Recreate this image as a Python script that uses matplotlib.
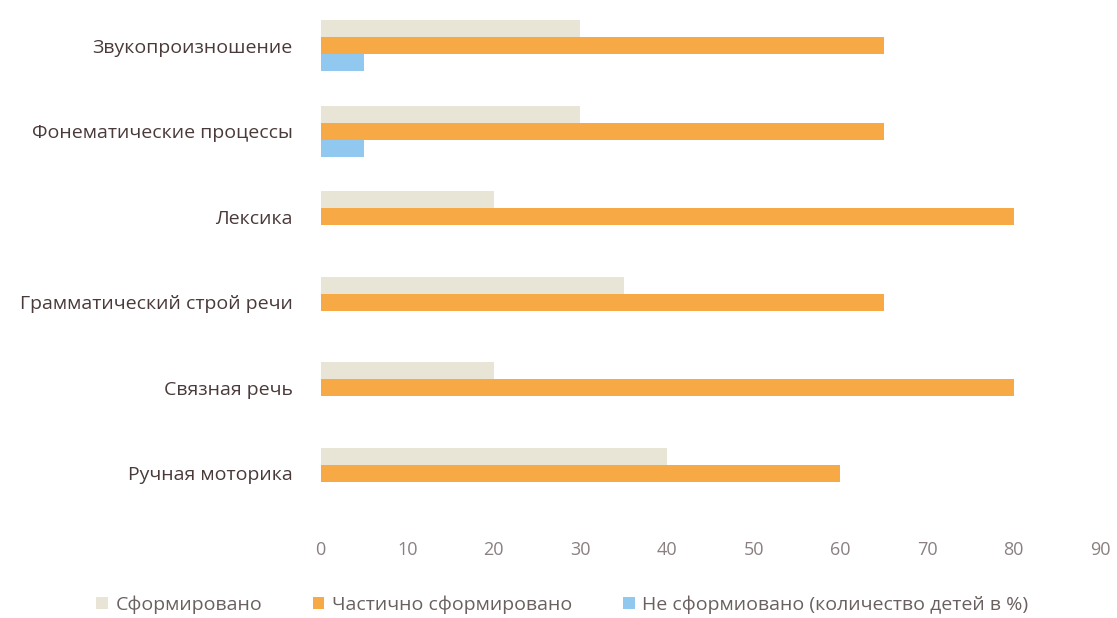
import matplotlib.pyplot as plt
import numpy as np

categories = ['Звукопроизношение', 'Фонематические процессы', 'Лексика',
              'Грамматический строй речи', 'Связная речь', 'Ручная моторика']
formed = [30, 30, 20, 35, 20, 40]
partial = [65, 65, 80, 65, 80, 60]
not_formed = [5, 5, 0, 0, 0, 0]
series_names = ['Сформировано', 'Частично сформировано',
                'Не сформиовано (количество детей в %)']

plt.rcParams['font.family'] = ['Open Sans', 'DejaVu Sans']

fig = plt.figure(figsize=(11.17, 6.18), dpi=100)
ax = fig.add_axes([0.287, 0.165, 0.698, 0.83])

y = np.arange(len(categories))
h = 0.2
colors = ['#e9e5d6', '#f7a945', '#90c8f0']
for i, (vals, c, name) in enumerate(zip([formed, partial, not_formed], colors, series_names)):
    ax.barh(y + (i - 1) * h, vals, height=h, color=c, label=name)

ax.set_xlim(0, 90)
ax.set_ylim(len(categories) - 0.5, -0.5)
ax.set_xticks(np.arange(0, 91, 10))
ax.set_yticks(y)
ax.set_yticklabels(categories, fontsize=14, color='#4a3a3a')
ax.tick_params(axis='x', labelsize=13, labelcolor='#8a8080', length=0, pad=18)
ax.tick_params(axis='y', length=0, pad=20)
for s in ax.spines.values():
    s.set_visible(False)

ax.legend(loc='lower center', bbox_to_anchor=(0.31, -0.225), ncol=3, frameon=False,
          fontsize=14, labelcolor='#6a6060', handlelength=0.6, handleheight=0.6,
          columnspacing=2.6, handletextpad=0.4)

fig.savefig('out.png', dpi=100)
